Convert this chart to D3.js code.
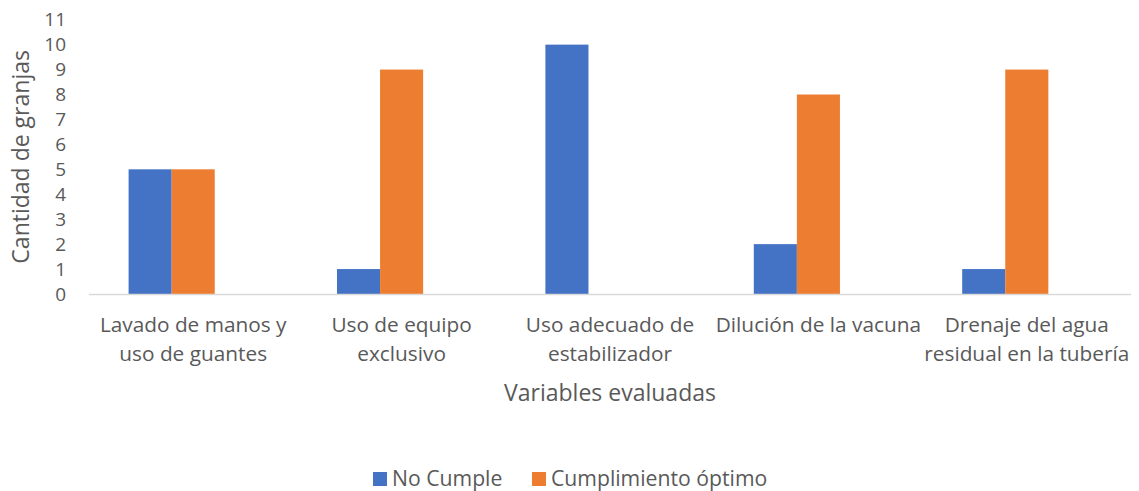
<!DOCTYPE html>
<html>
<head>
<meta charset="utf-8">
<script src="https://cdn.jsdelivr.net/npm/d3@7"></script>
<style>
  html, body { margin: 0; padding: 0; background: #fff; }
  svg text { font-family: "Open Sans", sans-serif; fill: #595959; }
</style>
</head>
<body>
<svg id="chart" width="1139" height="491"></svg>
<script>
const categories = [
  "Lavado de manos y\nuso de guantes",
  "Uso de equipo\nexclusivo",
  "Uso adecuado de\nestabilizador",
  "Dilución de la vacuna",
  "Drenaje del agua\nresidual en la tubería"
];
const seriesNames = ["No Cumple", "Cumplimiento óptimo"];
const noCumple = [5, 1, 10, 2, 1];
const cumplimiento = [5, 9, 0, 8, 9];
const yTicks = [0, 1, 2, 3, 4, 5, 6, 7, 8, 9, 10, 11];
const colors = ["#4472C4", "#ED7D31"];
const yTitle = "Cantidad de granjas";
const xTitle = "Variables evaluadas";

const seriesValues = [noCumple, cumplimiento];

const svg = d3.select("#chart");
const mLeft = 89, mRight = 1131, mTop = 19.7, mBottom = 294;

const x0 = d3.scaleBand().domain(categories).range([mLeft, mRight])
  .paddingInner(0.38).paddingOuter(0.19);
// three slots per group (Excel layout reserves a third, empty slot)
const x1 = d3.scaleBand().domain([0, 1, 2]).range([0, x0.bandwidth()]);
const y = d3.scaleLinear().domain([0, 11]).range([mBottom, mTop]);

// bars
seriesValues.forEach((vals, si) => {
  svg.append("g").selectAll("rect").data(vals).join("rect")
    .attr("x", (d, i) => x0(categories[i]) + x1(si))
    .attr("y", d => y(d))
    .attr("width", x1.bandwidth())
    .attr("height", d => y(0) - y(d))
    .attr("fill", colors[si]);
});

// x axis line
svg.append("line")
  .attr("x1", mLeft).attr("x2", mRight)
  .attr("y1", y(0) + 0.5).attr("y2", y(0) + 0.5)
  .attr("stroke", "#d9d9d9").attr("stroke-width", 1.5);

// y tick labels
const yAxis = d3.axisLeft(y).tickValues(yTicks).tickSize(0).tickPadding(0);
const yg = svg.append("g").attr("transform", "translate(66,0)").call(yAxis);
yg.select(".domain").remove();
yg.selectAll("text").style("font-size", "19px").style("font-family", "'Open Sans', sans-serif").attr("fill", "#595959");

// x category labels
const xg = svg.append("g");
categories.forEach(c => {
  const lines = c.split("\n");
  const cx = x0(c) + x0.bandwidth() / 2;
  const t = xg.append("text")
    .attr("x", cx)
    .attr("y", 332)
    .attr("text-anchor", "middle")
    .style("font-size", "20.8px");
  lines.forEach((ln, i) => {
    t.append("tspan").attr("x", cx)
      .attr("dy", i === 0 ? 0 : 29).text(ln);
  });
});

// axis titles
svg.append("text")
  .attr("x", x0.range()[0] + (x0.range()[1] - x0.range()[0]) / 2).attr("y", 401)
  .attr("text-anchor", "middle").style("font-size", "23px").text(xTitle);

svg.append("text")
  .attr("transform", `translate(29,${(mTop + mBottom) / 2}) rotate(-90)`)
  .attr("text-anchor", "middle").style("font-size", "23px").text(yTitle);

// legend
const legend = svg.append("g");
const legendX = [373, 532];
seriesNames.forEach((n, i) => {
  legend.append("rect").attr("x", legendX[i]).attr("y", 472)
    .attr("width", 14).attr("height", 14).attr("fill", colors[i]);
  legend.append("text").attr("x", legendX[i] + 19).attr("y", 486)
    .style("font-size", "21.2px").text(n);
});
</script>
</body>
</html>
